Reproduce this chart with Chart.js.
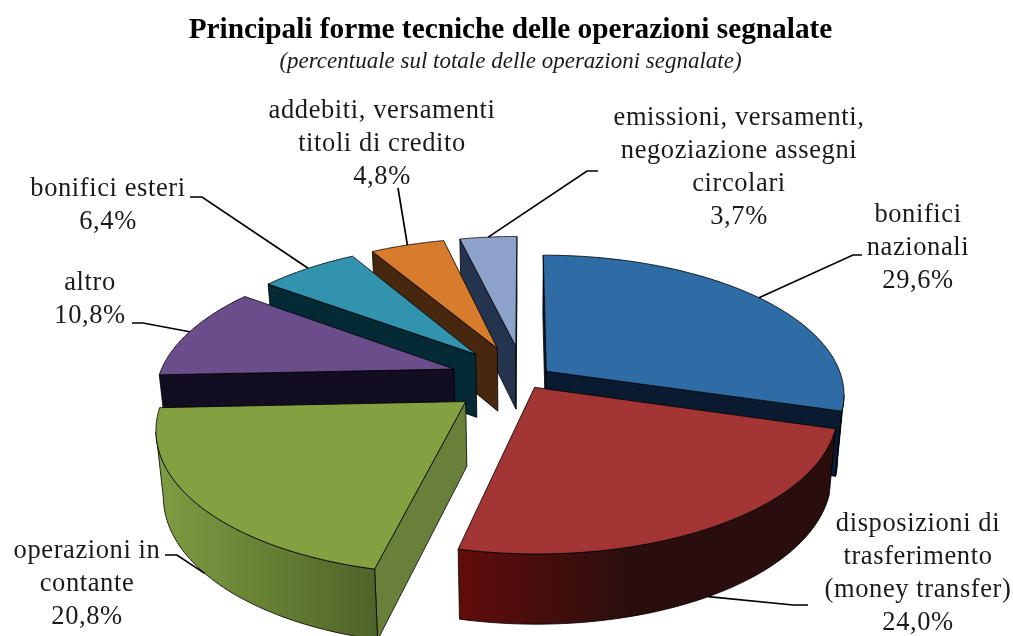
<!DOCTYPE html>
<html>
<head>
<meta charset="utf-8">
<title>Forme tecniche</title>
<script src="https://cdn.jsdelivr.net/npm/chart.js@4"></script>
<style>
  body { margin: 0; background: #fff; }
  canvas { display: block; }
</style>
</head>
<body>
<canvas id="pieChart" width="1013" height="636"></canvas>
<script>
// Data
const categories = [
  ['bonifici', 'nazionali'],
  ['disposizioni di', 'trasferimento', '(money transfer)'],
  ['operazioni in', 'contante'],
  ['altro'],
  ['bonifici esteri'],
  ['addebiti, versamenti', 'titoli di credito'],
  ['emissioni, versamenti,', 'negoziazione assegni', 'circolari']
];
const shares = [29.6, 24.0, 20.8, 10.8, 6.4, 4.8, 3.7];
const explode = [9.5, 7, 25, 25, 25, 25, 25]; // percent of radius

// Colours
const topColors = ['#2f6ca5', '#a33635', '#84a141', '#6b4d8b', '#3193ae', '#d67c2c', '#8ea3cb'];
const wallColors = ['#0a1a30', '#2a0e0e', '#68803a', '#120d20', '#032a35', '#47280f', '#24344f'];
const rimColors = [
  ['#0a1a30', '#0a1a30', 1],
  ['#610d0a', '#2a0e0e', 0.45],
  ['#7f9d42', '#4f6429', 1],
  ['#120d20', '#120d20', 1],
  ['#032a35', '#032a35', 1],
  ['#47280f', '#47280f', 1],
  ['#24344f', '#24344f', 1]
];

// label centre x, y of first line, leader elbow and leader tail
const labelBoxes = [
  { x: 918, y: 215, elbow: [853, 255], tail: [862, 255] },
  { x: 918, y: 524, elbow: [793, 605], tail: [808, 605] },
  { x: 87, y: 551, elbow: [177, 555], tail: [165, 555] },
  { x: 90, y: 283, elbow: [143, 323], tail: [132, 323] },
  { x: 108, y: 189, elbow: [202, 197], tail: [190, 197] },
  { x: 382, y: 111, elbow: [398, 188], tail: [398, 188] },
  { x: 739, y: 118, elbow: [587, 171], tail: [598, 171] }
];

const LABEL_FONT = '26.5px "Liberation Serif"';
const LABEL_SPACING = '0.6px';
const LINE_H = 33;

// perspective of the pie plane
const CX = 524, CY = 379, RX = 296, RY = 137, PERSP = 0.16, DEPTH = 64, SHRINK = 0.98;

function project(u, v, low) {
  const p = 1 / (1 + PERSP * v);
  let x = CX + RX * u * p;
  let y = CY - RY * v * p;
  if (low) {
    x = CX + (x - CX) * SHRINK;
    y += DEPTH * Math.sqrt(p);
  }
  return [x, y];
}

function tracePath(ctx, pts) {
  ctx.beginPath();
  pts.forEach(function(pt, i) {
    if (i === 0) ctx.moveTo(pt[0], pt[1]);
    else ctx.lineTo(pt[0], pt[1]);
  });
  ctx.closePath();
}

function cross(a, b, c, d) {
  return (b[0] - a[0]) * (d[1] - c[1]) - (b[1] - a[1]) * (d[0] - c[0]);
}

function sliceShape(arc) {
  const mid = (arc.startAngle + arc.endAngle) / 2;
  const off = arc.options.offset / 100;
  const ou = Math.cos(mid) * off, ov = -Math.sin(mid) * off;
  const at = function(angle) {
    return [ou + Math.cos(angle), ov - Math.sin(angle)];
  };
  const rim = [];
  const steps = 64;
  for (let s = 0; s <= steps; s++) {
    rim.push(at(arc.startAngle + (arc.endAngle - arc.startAngle) * s / steps));
  }
  return { ou: ou, ov: ov, rim: rim, midU: Math.cos(mid), midV: -Math.sin(mid) };
}

function drawSlice(ctx, arc, i) {
  const shape = sliceShape(arc);
  const apex = project(shape.ou, shape.ov, false);
  const apexLow = project(shape.ou, shape.ov, true);
  const rimTop = shape.rim.map(function(q) { return project(q[0], q[1], false); });
  const rimLow = shape.rim.map(function(q) { return project(q[0], q[1], true); });
  const n = rimTop.length - 1;
  const inner = project(shape.ou + shape.midU * 0.5, shape.ov + shape.midV * 0.5, false);

  ctx.lineWidth = 1;
  ctx.lineJoin = 'round';
  ctx.strokeStyle = 'rgba(0,0,0,0.8)';

  // straight walls, only the ones facing the viewer
  [[rimTop[0], rimLow[0]], [rimTop[n], rimLow[n]]].forEach(function(edge) {
    const down = [edge[0][0], edge[0][1] + 10];
    const a = cross(apex, edge[0], apex, down);
    const b = cross(apex, edge[0], apex, inner);
    if (a * b < 0) {
      tracePath(ctx, [apex, edge[0], edge[1], apexLow]);
      ctx.fillStyle = wallColors[i];
      ctx.fill();
      ctx.stroke();
    }
  });

  // outer wall, front part of the rim
  const upper = [], lower = [];
  for (let s = 0; s < n; s++) {
    if (rimTop[s + 1][0] < rimTop[s][0]) {
      if (!upper.length) { upper.push(rimTop[s]); lower.push(rimLow[s]); }
      upper.push(rimTop[s + 1]);
      lower.push(rimLow[s + 1]);
    }
  }
  if (upper.length) {
    const xs = upper.map(function(pt) { return pt[0]; });
    const grad = ctx.createLinearGradient(Math.min.apply(null, xs), 0, Math.max.apply(null, xs), 0);
    grad.addColorStop(0, rimColors[i][0]);
    grad.addColorStop(rimColors[i][2], rimColors[i][1]);
    tracePath(ctx, upper.concat(lower.reverse()));
    ctx.fillStyle = grad;
    ctx.fill();
    ctx.stroke();
  }

  // top face
  tracePath(ctx, [apex].concat(rimTop));
  ctx.fillStyle = arc.options.backgroundColor;
  ctx.fill();
  ctx.stroke();
}

const pie3d = {
  id: 'pie3d',
  beforeDatasetDraw: function(chart, args) {
    const ctx = chart.ctx;
    const arcs = chart.getDatasetMeta(args.index).data;
    const order = arcs.map(function(arc, i) { return i; });
    order.sort(function(a, b) {
      return sliceShape(arcs[b]).midV - sliceShape(arcs[a]).midV;
    });
    ctx.save();
    order.forEach(function(i) { drawSlice(ctx, arcs[i], i); });
    ctx.restore();
    return false; // slices are all drawn above
  },
  afterDatasetsDraw: function(chart) {
    const ctx = chart.ctx;
    const arcs = chart.getDatasetMeta(0).data;
    ctx.save();
    arcs.forEach(function(arc, i) {
      const shape = sliceShape(arc);
      const box = labelBoxes[i];
      const start = project(shape.ou + shape.midU, shape.ov + shape.midV, shape.midV < 0);
      ctx.beginPath();
      ctx.moveTo(start[0], start[1]);
      ctx.lineTo(box.elbow[0], box.elbow[1]);
      ctx.lineTo(box.tail[0], box.tail[1]);
      ctx.strokeStyle = '#000';
      ctx.lineWidth = 1.7;
      ctx.stroke();

      const lines = categories[i].concat(shares[i].toFixed(1).replace('.', ',') + '%');
      ctx.fillStyle = '#1a1a1a';
      ctx.font = LABEL_FONT;
      ctx.letterSpacing = LABEL_SPACING;
      ctx.textAlign = 'center';
      ctx.textBaseline = 'middle';
      lines.forEach(function(line, k) {
        ctx.fillText(line, box.x, box.y + k * LINE_H);
      });
    });
    ctx.restore();
  }
};

const pieConfig = {
  type: 'pie',
  data: {
    labels: categories,
    datasets: [{
      data: shares,
      backgroundColor: topColors,
      offset: explode,
      borderWidth: 0
    }]
  },
  options: {
    responsive: false,
    animation: false,
    layout: { padding: { left: 8, top: 13 } },
    plugins: {
      legend: { display: false },
      tooltip: { enabled: false },
      title: {
        display: true,
        text: 'Principali forme tecniche delle operazioni segnalate',
        color: '#000',
        font: { family: 'Liberation Serif', size: 29.3, weight: 'bold' },
        padding: { top: 0, bottom: 0 }
      },
      subtitle: {
        display: true,
        text: '(percentuale sul totale delle operazioni segnalate)',
        color: '#1a1a1a',
        font: { family: 'Liberation Serif', size: 23, style: 'italic', weight: 'normal' },
        padding: { bottom: 10 }
      }
    }
  },
  plugins: [pie3d]
};

var pie_area = document.getElementById('pieChart');
var myPieChart = new Chart(pie_area, pieConfig);
</script>
</body>
</html>
